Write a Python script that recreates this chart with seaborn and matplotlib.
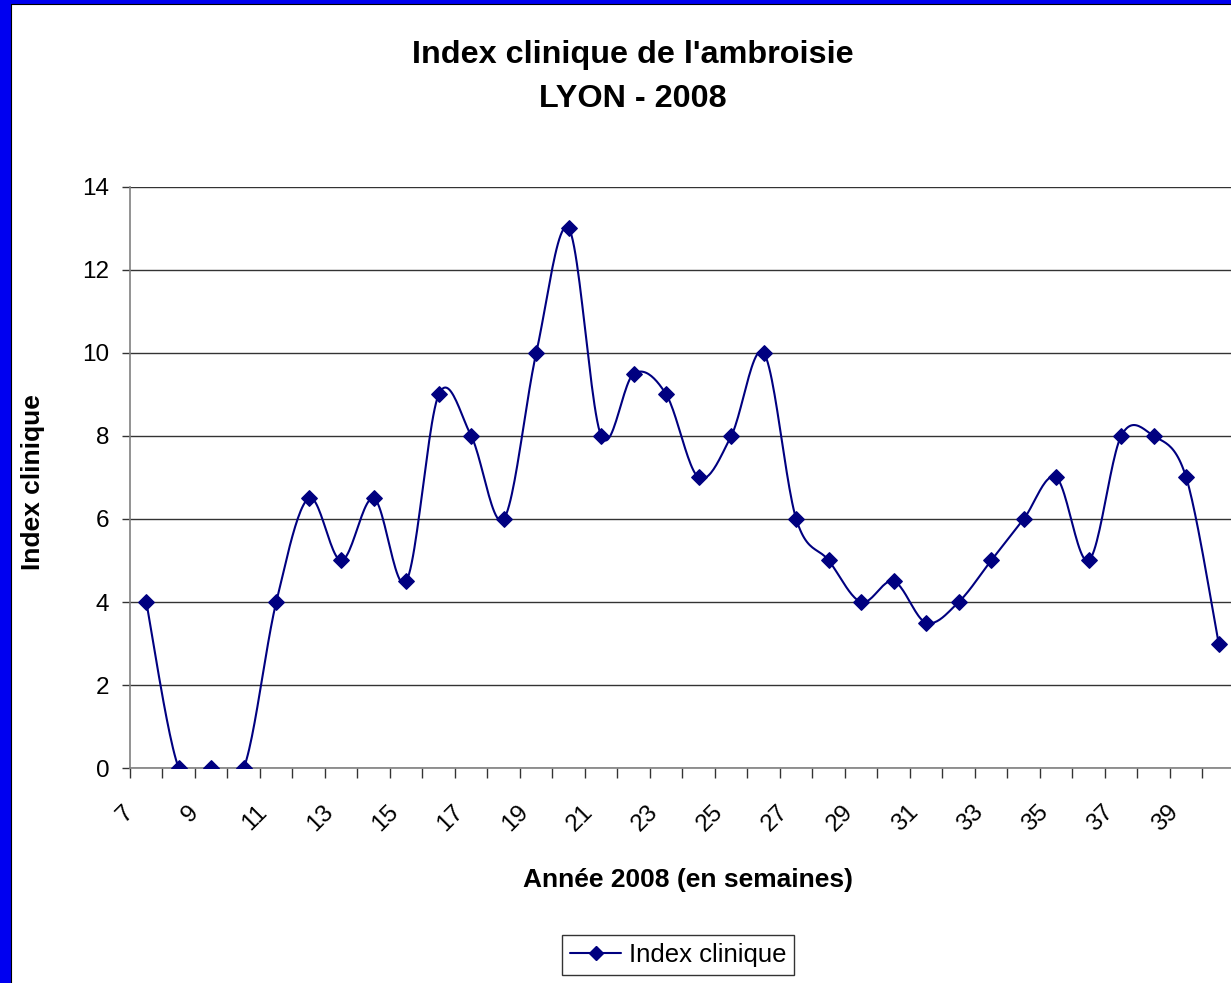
import numpy as np
import pandas as pd
import matplotlib
matplotlib.use('Agg')
import matplotlib.pyplot as plt
import matplotlib.transforms as mtransforms
from matplotlib.lines import Line2D
from matplotlib.patches import Rectangle
import seaborn as sns

# DONNEES
semaines = list(range(7, 41))
index_clinique = [4, 0, 0, 0, 4, 6.5, 5, 6.5, 4.5, 9, 8, 6, 10, 13, 8, 9.5, 9,
                  7, 8, 10, 6, 5, 4, 4.5, 3.5, 4, 5, 6, 7, 5, 8, 8, 7, 3]
y_ticks = [0, 2, 4, 6, 8, 10, 12, 14]
x_labels = [str(w) for w in range(7, 40, 2)]

titre = "Index clinique de l'ambroisie\nLYON - 2008"
bleu = '#000080'

df = pd.DataFrame({'semaine': semaines, 'index': index_clinique})


def lissage(x, y, n=25):
    '''Courbe lissee facon Excel (Bezier type Catmull-Rom)'''
    x = np.asarray(x, float)
    y = np.asarray(y, float)
    xp = np.concatenate([[x[0]], x, [x[-1]]])
    yp = np.concatenate([[y[0]], y, [y[-1]]])
    t = np.linspace(0, 1, n)
    xs, ys = [], []
    for i in range(len(x) - 1):
        p0 = np.array([xp[i], yp[i]])
        p1 = np.array([xp[i + 1], yp[i + 1]])
        p2 = np.array([xp[i + 2], yp[i + 2]])
        p3 = np.array([xp[i + 3], yp[i + 3]])
        b1 = p1 + (p2 - p0) / 6
        b2 = p2 - (p3 - p1) / 6
        pts = (np.outer((1 - t) ** 3, p1) + np.outer(3 * (1 - t) ** 2 * t, b1)
               + np.outer(3 * (1 - t) * t ** 2, b2) + np.outer(t ** 3, p2))
        xs.extend(pts[:, 0])
        ys.extend(pts[:, 1])
    return pd.DataFrame({'semaine': xs, 'index': ys})


courbe = lissage(df['semaine'], df['index'])

sns.set_style('white')
plt.rcParams['font.family'] = ['Liberation Sans', 'DejaVu Sans']
plt.rcParams['text.color'] = 'black'
plt.rcParams['xtick.labelcolor'] = 'black'
plt.rcParams['ytick.labelcolor'] = 'black'

fig = plt.figure(figsize=(12.31, 9.83), dpi=100)
ax = fig.add_axes([0.1056, 0.2187, 0.8976, 0.5911])

sns.lineplot(data=courbe, x='semaine', y='index', ax=ax, color=bleu,
             lw=1.5, sort=False, estimator=None)
sns.scatterplot(data=df, x='semaine', y='index', ax=ax, marker='D', s=62,
                color=bleu, edgecolor=bleu, linewidth=1, zorder=5)

ax.set_xlim(6.5, 40.5)
ax.set_ylim(0, 14)
ax.set_yticks(y_ticks)
ax.yaxis.grid(True, color='#333333', lw=1)
ax.set_axisbelow(True)

# graduations entre les categories, libelle une semaine sur deux
bornes = np.arange(6.5, 41, 1)
libelles = [str(int(b + 0.5)) if str(int(b + 0.5)) in x_labels else '' for b in bornes]
ax.set_xticks(bornes, libelles)

for s in ['top', 'right']:
    ax.spines[s].set_visible(False)
for s in ['left', 'bottom']:
    ax.spines[s].set_color('#808080')
    ax.spines[s].set_linewidth(1.2)

ax.tick_params(axis='y', length=6, width=1, color='#333333', labelsize=17.5, pad=9,
               left=True, labelcolor='black')
ax.tick_params(axis='x', length=7, width=1, color='#333333', labelsize=17.5, pad=17,
               labelrotation=45, bottom=True, labelcolor='black')
decal = mtransforms.ScaledTranslation(-0.05, 0, fig.dpi_scale_trans)
for lbl in ax.get_xticklabels():
    lbl.set_transform(lbl.get_transform() + decal)
    lbl.set_ha('center')

ax.set_xlabel('')
ax.set_ylabel('')

fig.text(0.514, 1 - 77 / 983, titre, ha='center', va='center', fontsize=23.3,
         fontweight='bold', linespacing=1.6)
fig.text(0.5585, 1 - 880 / 983, 'Année 2008 (en semaines)', ha='center', va='center',
         fontsize=19, fontweight='bold')
fig.text(0.0268, 1 - 482 / 983, 'Index clinique', ha='center', va='center',
         fontsize=19, fontweight='bold', rotation=90)

poignee = Line2D([], [], color=bleu, marker='D', markersize=7.5, lw=1.5)
leg = fig.legend(handles=[poignee], labels=['Index clinique'], loc='center',
                 bbox_to_anchor=(0.551, 0.0285), frameon=True, fancybox=False,
                 edgecolor='black', fontsize=18.5, handlelength=2,
                 borderpad=0.3, handletextpad=0.3)
leg.get_frame().set_linewidth(1)

# bordure bleue de la diapo
fig.patches.append(Rectangle((0, 0), 10 / 1231, 1, transform=fig.transFigure,
                             color='#0000F0', zorder=10))
fig.patches.append(Rectangle((0, 1 - 3 / 983), 1, 3 / 983, transform=fig.transFigure,
                             color='#0000F0', zorder=10))
fig.lines.append(Line2D([10.5 / 1231, 10.5 / 1231], [0, 1 - 3.5 / 983],
                        transform=fig.transFigure, color='black', lw=0.8, zorder=11))
fig.lines.append(Line2D([10.5 / 1231, 1], [1 - 3.5 / 983, 1 - 3.5 / 983],
                        transform=fig.transFigure, color='black', lw=0.8, zorder=11))

fig.savefig('out.png', dpi=100, facecolor='white')
